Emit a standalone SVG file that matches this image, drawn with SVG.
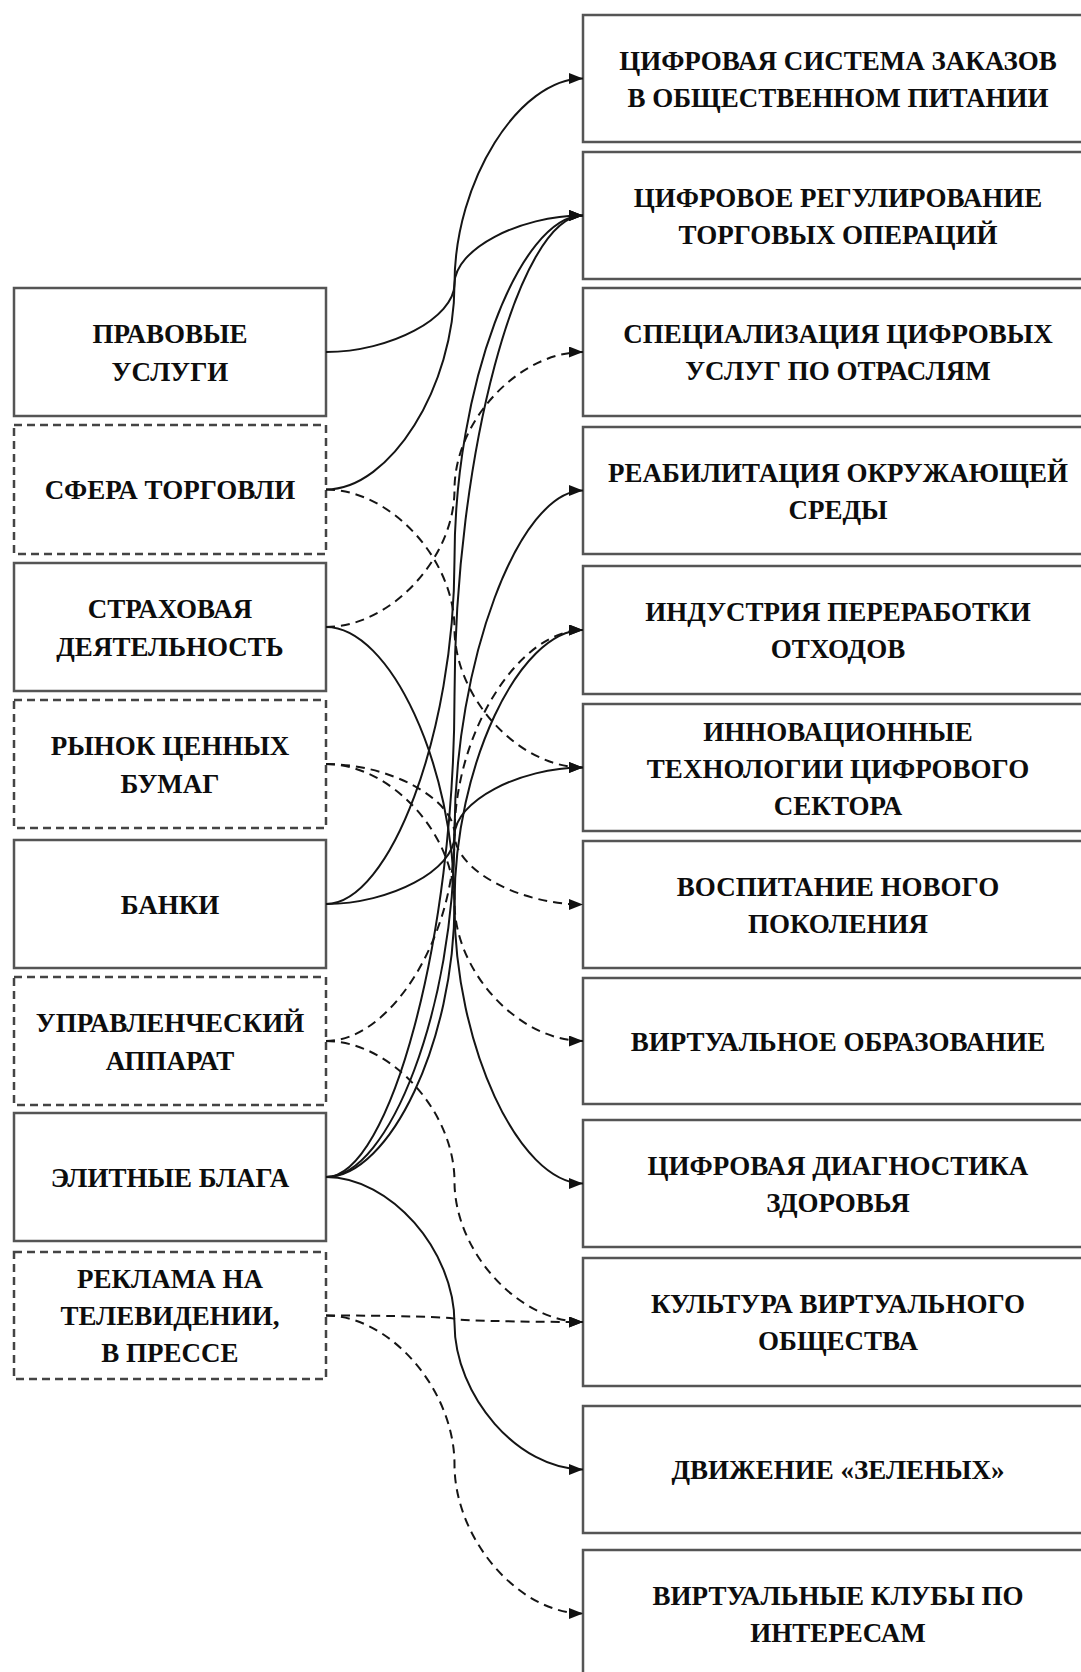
<svg xmlns="http://www.w3.org/2000/svg" width="1081" height="1672" viewBox="0 0 1081 1672">
<defs>
<marker id="arr" markerUnits="userSpaceOnUse" markerWidth="15" markerHeight="12" refX="14" refY="5.5" orient="auto">
<path d="M0,0 L14,5.5 L0,11 z" fill="#111"/>
</marker>
<style>
.box{fill:#fff;stroke:#555;stroke-width:2.5}
.dbox{fill:#fff;stroke:#444;stroke-width:2.5;stroke-dasharray:8 5}
.t{font-family:"Liberation Serif","Times New Roman",serif;font-weight:bold;font-size:27px;fill:#0d0d0d;text-anchor:middle}
.c{fill:none;stroke:#151515;stroke-width:2;marker-end:url(#arr)}
.d{fill:none;stroke:#151515;stroke-width:2;stroke-dasharray:9 6;marker-end:url(#arr)}
</style>
</defs>
<rect width="1081" height="1672" fill="#fff"/>

<g id="L1"><rect class="box" x="14" y="288" width="312" height="128"/><text class="t"><tspan x="170" y="343">ПРАВОВЫЕ</tspan><tspan x="170" y="381">УСЛУГИ</tspan></text></g>
<g id="L2"><rect class="dbox" x="14" y="425" width="312" height="129"/><text class="t"><tspan x="170" y="499">СФЕРА ТОРГОВЛИ</tspan></text></g>
<g id="L3"><rect class="box" x="14" y="563" width="312" height="128"/><text class="t"><tspan x="170" y="618">СТРАХОВАЯ</tspan><tspan x="170" y="656">ДЕЯТЕЛЬНОСТЬ</tspan></text></g>
<g id="L4"><rect class="dbox" x="14" y="700" width="312" height="128"/><text class="t"><tspan x="170" y="755">РЫНОК ЦЕННЫХ</tspan><tspan x="170" y="793">БУМАГ</tspan></text></g>
<g id="L5"><rect class="box" x="14" y="840" width="312" height="128"/><text class="t"><tspan x="170" y="913.5">БАНКИ</tspan></text></g>
<g id="L6"><rect class="dbox" x="14" y="977" width="312" height="128"/><text class="t"><tspan x="170" y="1032">УПРАВЛЕНЧЕСКИЙ</tspan><tspan x="170" y="1070">АППАРАТ</tspan></text></g>
<g id="L7"><rect class="box" x="14" y="1113" width="312" height="128"/><text class="t"><tspan x="170" y="1186.5">ЭЛИТНЫЕ БЛАГА</tspan></text></g>
<g id="L8"><rect class="dbox" x="14" y="1252" width="312" height="127"/><text class="t"><tspan x="170" y="1288">РЕКЛАМА НА</tspan><tspan x="170" y="1325">ТЕЛЕВИДЕНИИ,</tspan><tspan x="170" y="1362">В ПРЕССЕ</tspan></text></g>

<g id="R1"><rect class="box" x="583" y="15" width="510" height="127"/><text class="t"><tspan x="838" y="70">ЦИФРОВАЯ СИСТЕМА ЗАКАЗОВ</tspan><tspan x="838" y="107">В ОБЩЕСТВЕННОМ ПИТАНИИ</tspan></text></g>
<g id="R2"><rect class="box" x="583" y="152" width="510" height="127"/><text class="t"><tspan x="838" y="207">ЦИФРОВОЕ РЕГУЛИРОВАНИЕ</tspan><tspan x="838" y="244">ТОРГОВЫХ ОПЕРАЦИЙ</tspan></text></g>
<g id="R3"><rect class="box" x="583" y="288" width="510" height="128"/><text class="t"><tspan x="838" y="343">СПЕЦИАЛИЗАЦИЯ ЦИФРОВЫХ</tspan><tspan x="838" y="380">УСЛУГ ПО ОТРАСЛЯМ</tspan></text></g>
<g id="R4"><rect class="box" x="583" y="427" width="510" height="127"/><text class="t"><tspan x="838" y="482">РЕАБИЛИТАЦИЯ ОКРУЖАЮЩЕЙ</tspan><tspan x="838" y="519">СРЕДЫ</tspan></text></g>
<g id="R5"><rect class="box" x="583" y="566" width="510" height="128"/><text class="t"><tspan x="838" y="621">ИНДУСТРИЯ ПЕРЕРАБОТКИ</tspan><tspan x="838" y="658">ОТХОДОВ</tspan></text></g>
<g id="R6"><rect class="box" x="583" y="704" width="510" height="127"/><text class="t"><tspan x="838" y="741">ИННОВАЦИОННЫЕ</tspan><tspan x="838" y="778">ТЕХНОЛОГИИ ЦИФРОВОГО</tspan><tspan x="838" y="815">СЕКТОРА</tspan></text></g>
<g id="R7"><rect class="box" x="583" y="841" width="510" height="127"/><text class="t"><tspan x="838" y="896">ВОСПИТАНИЕ НОВОГО</tspan><tspan x="838" y="933">ПОКОЛЕНИЯ</tspan></text></g>
<g id="R8"><rect class="box" x="583" y="978" width="510" height="126"/><text class="t"><tspan x="838" y="1050.5">ВИРТУАЛЬНОЕ ОБРАЗОВАНИЕ</tspan></text></g>
<g id="R9"><rect class="box" x="583" y="1120" width="510" height="127"/><text class="t"><tspan x="838" y="1175">ЦИФРОВАЯ ДИАГНОСТИКА</tspan><tspan x="838" y="1212">ЗДОРОВЬЯ</tspan></text></g>
<g id="R10"><rect class="box" x="583" y="1258" width="510" height="128"/><text class="t"><tspan x="838" y="1313">КУЛЬТУРА ВИРТУАЛЬНОГО</tspan><tspan x="838" y="1350">ОБЩЕСТВА</tspan></text></g>
<g id="R11"><rect class="box" x="583" y="1406" width="510" height="127"/><text class="t"><tspan x="838" y="1479">ДВИЖЕНИЕ «ЗЕЛЕНЫХ»</tspan></text></g>
<g id="R12"><rect class="box" x="583" y="1550" width="510" height="127"/><text class="t"><tspan x="838" y="1605">ВИРТУАЛЬНЫЕ КЛУБЫ ПО</tspan><tspan x="838" y="1642">ИНТЕРЕСАМ</tspan></text></g>

<g id="connectors">
<path class="c" d="M326,352 C390.25,352 454.5,317.9 454.5,283.75 C454.5,249.6 518.75,215.5 583,215.5"/>
<path class="c" d="M326,489.5 C390.25,489.5 454.5,386.75 454.5,284 C454.5,181.25 518.75,78.5 583,78.5"/>
<path class="c" d="M326,627 C390.25,627 454.5,766.1 454.5,905.25 C454.5,1044.4 518.75,1183.5 583,1183.5"/>
<path class="c" d="M326,904 C390.25,904 454.5,731.9 454.5,559.75 C454.5,387.6 518.75,215.5 583,215.5"/>
<path class="c" d="M326,904 C390.25,904 454.5,869.9 454.5,835.75 C454.5,801.6 518.75,767.5 583,767.5"/>
<path class="c" d="M326,1177 C390.25,1177 454.5,1005.4 454.5,833.75 C454.5,662.1 518.75,490.5 583,490.5"/>
<path class="c" d="M326,1177 C390.25,1177 454.5,1040.25 454.5,903.5 C454.5,766.75 518.75,630 583,630"/>
<path class="c" d="M326,1177 C390.25,1177 454.5,1250.1 454.5,1323.25 C454.5,1396.4 518.75,1469.5 583,1469.5"/>
<path class="c" d="M326,1177 C390.25,1177 454.5,936.6 454.5,696.25 C454.5,455.9 518.75,215.5 583,215.5"/>
<path class="d" d="M326,489.5 C390.25,489.5 454.5,559 454.5,628.5 C454.5,698 518.75,767.5 583,767.5"/>
<path class="d" d="M326,627 C390.25,627 454.5,558.25 454.5,489.5 C454.5,420.75 518.75,352 583,352"/>
<path class="d" d="M326,764 C390.25,764 454.5,799.1 454.5,834.25 C454.5,869.4 518.75,904.5 583,904.5"/>
<path class="d" d="M326,764 C390.25,764 454.5,833.25 454.5,902.5 C454.5,971.75 518.75,1041 583,1041"/>
<path class="d" d="M326,1041 C390.25,1041 454.5,938.25 454.5,835.5 C454.5,732.75 518.75,630 583,630"/>
<path class="d" d="M326,1041 C390.25,1041 454.5,1111.25 454.5,1181.5 C454.5,1251.75 518.75,1322 583,1322"/>
<path class="d" d="M326,1315.5 C390.25,1315.5 454.5,1317.1 454.5,1318.75 C454.5,1320.4 518.75,1322 583,1322"/>
<path class="d" d="M326,1315.5 C390.25,1315.5 454.5,1390 454.5,1464.5 C454.5,1539 518.75,1613.5 583,1613.5"/>
</g>
</svg>
